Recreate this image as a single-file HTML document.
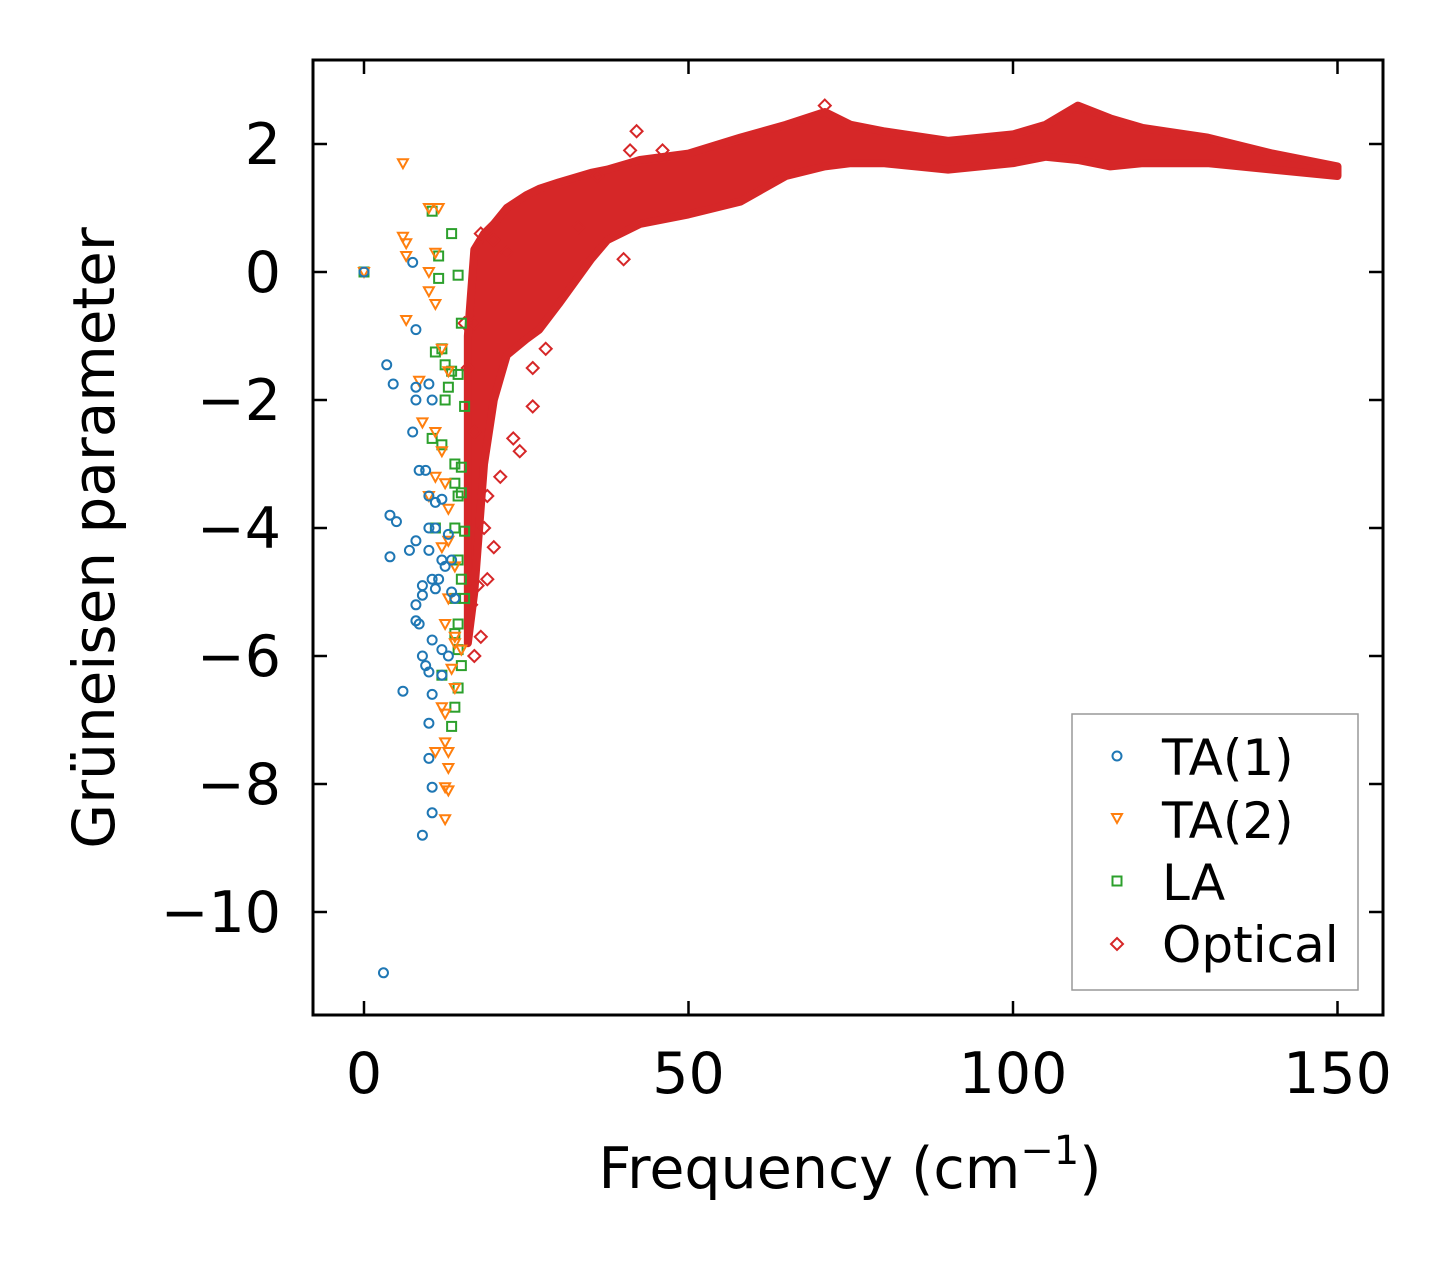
<!DOCTYPE html>
<html><head><meta charset="utf-8"><style>
html,body{margin:0;padding:0;background:#fff;}
svg{display:block;font-family:"DejaVu Sans","Liberation Sans",sans-serif;}
</style></head><body>
<div style="position:relative;width:1451px;height:1264px;">
<svg id="chart" width="1451" height="1264" viewBox="0 0 1451 1264" style="position:absolute;left:0;top:0">
<g id="marks"></g>
<g id="axes"></g>
<text x="850" y="1188" text-anchor="middle" font-size="57">Frequency (cm<tspan dy="-24" font-size="40">−1</tspan><tspan dy="24">)</tspan></text>
<text transform="translate(114,538) rotate(-90)" text-anchor="middle" font-size="58">Grüneisen parameter</text>
<g>
<rect x="1072" y="714" width="286" height="276" fill="#fff" stroke="#999" stroke-width="1.5"/>
<g><circle cx="1117" cy="756" r="4.5" fill="none" stroke="#1f77b4" stroke-width="2"/><text x="1162" y="775" font-size="50">TA(1)</text></g>
<g><polygon points="1112,814 1122,814 1117,823" fill="none" stroke="#ff7f0e" stroke-width="2"/><text x="1162" y="838" font-size="50">TA(2)</text></g>
<g><rect x="1112.5" y="876.5" width="9" height="9" fill="none" stroke="#2ca02c" stroke-width="2"/><text x="1162" y="900" font-size="50">LA</text></g>
<g><polygon points="1117,938 1123,944 1117,950 1111,944" fill="none" stroke="#d62728" stroke-width="2"/><text x="1162" y="962" font-size="50">Optical</text></g>
</g>
</svg>
</div>
<script>
// ---- data ----
const xTicks = [0, 50, 100, 150];
const yTicks = [2, 0, -2, -4, -6, -8, -10];
const bandFreq  = [16, 17, 18.5, 20, 22, 25, 27, 30, 35, 37.5, 42.5, 50, 58, 65, 71, 75, 80, 90, 100, 105, 110, 115, 120, 130, 140, 150];
const bandUpper = [-1, 0.35, 0.6, 0.75, 1.0, 1.2, 1.3, 1.4, 1.55, 1.6, 1.75, 1.85, 2.1, 2.3, 2.5, 2.3, 2.2, 2.05, 2.15, 2.3, 2.6, 2.4, 2.25, 2.1, 1.85, 1.65];
const bandLower = [-5.8, -5.0, -3.0, -2.0, -1.3, -1.05, -0.9, -0.5, 0.2, 0.5, 0.75, 0.9, 1.1, 1.5, 1.65, 1.7, 1.7, 1.6, 1.7, 1.8, 1.75, 1.65, 1.7, 1.7, 1.6, 1.5];
const optX = [17,18,19,20,19,18,20,24,23,26,26,42,41,40,71,46,17,16,17,21,16.5,17.5,18.5,15.5,22,28,33,36];
const optY = [-6,-5.7,-4.8,-4.3,-3.5,0.6,0.5,-2.8,-2.6,-2.1,-1.5,2.2,1.9,0.2,2.6,1.9,-0.8,-1.5,-2.5,-3.2,-5.2,-4.9,-4.0,-0.8,0.3,-1.2,0.7,1.5];
const ta1X = [0,3,7.5,8,3.5,4.5,8,8,10,10.5,7.5,8.5,9.5,10,11,12,4,5,10,11,8,7,4,10,12,10.5,11.5,9,11,9,8,13.5,13.5,8,8.5,10.5,12,13,9,9.5,10,12,6,10.5,10,10,10.5,10.5,9,13,12.5,14];
const ta1Y = [0,-10.95,0.15,-0.9,-1.45,-1.75,-1.8,-2,-1.75,-2,-2.5,-3.1,-3.1,-3.5,-3.6,-3.55,-3.8,-3.9,-4,-4,-4.2,-4.35,-4.45,-4.35,-4.5,-4.8,-4.8,-4.9,-4.95,-5.05,-5.2,-4.5,-5,-5.45,-5.5,-5.75,-5.9,-6,-6,-6.15,-6.25,-6.3,-6.55,-6.6,-7.05,-7.6,-8.05,-8.45,-8.8,-4.1,-4.6,-5.1];
const ta2X = [0,6,10,11.5,6,6.5,6.5,10,11,10,11,6.5,12,13,8.5,9,11,12,11,12.5,10,13,13,12,14,13,12.5,14,13.5,14,12,12.5,12.5,13,13,12.5,13,12.5,11,14,15];
const ta2Y = [0,1.7,1,1,0.55,0.45,0.25,0,0.3,-0.3,-0.5,-0.75,-1.2,-1.55,-1.7,-2.35,-2.5,-2.8,-3.2,-3.3,-3.5,-3.7,-4.2,-4.3,-4.6,-5.1,-5.5,-5.8,-6.2,-6.5,-6.8,-6.9,-7.35,-7.5,-7.75,-8.05,-8.1,-8.55,-7.5,-5.7,-5.9];
const laX = [0,10.5,11.5,13.5,11.5,14.5,15,11,12,12.5,13.5,14.5,13,12.5,15.5,10.5,12,14,15,14,14.5,15,11,14,15.5,14.5,15,14,15.5,14.5,14,15,14.5,14,13.5,12,14.5];
const laY = [0,0.95,0.25,0.6,-0.1,-0.05,-0.8,-1.25,-1.2,-1.45,-1.55,-1.6,-1.8,-2,-2.1,-2.6,-2.7,-3,-3.05,-3.3,-3.5,-3.45,-4,-4,-4.05,-4.5,-4.8,-5.1,-5.1,-5.5,-5.65,-6.15,-6.5,-6.8,-7.1,-6.3,-5.9];

// ---- axes functions ----
const L=313,R=1383,T=60,B=1015;
const sx = v => 364 + v*6.49;
const sy = v => 272 - v*64;
const NS='http://www.w3.org/2000/svg';
const marks=document.getElementById('marks'), axes=document.getElementById('axes');
function mk(tag, attrs, parent){const e=document.createElementNS(NS,tag);for(const k in attrs)e.setAttribute(k,attrs[k]);parent.appendChild(e);return e;}

let pts=[];
for(let i=0;i<bandFreq.length;i++) pts.push(sx(bandFreq[i])+','+sy(bandUpper[i]));
for(let i=bandFreq.length-1;i>=0;i--) pts.push(sx(bandFreq[i])+','+sy(bandLower[i]));
const band=mk('polygon',{points:pts.join(' '),fill:'#d62728',stroke:'#d62728','stroke-width':8,'stroke-linejoin':'round'},marks);



function circle(x,y,c){return mk('circle',{cx:x,cy:y,r:4.5,fill:'none',stroke:c,'stroke-width':2},marks);}
function tri(x,y,c){return mk('polygon',{points:`${x-5},${y-4} ${x+5},${y-4} ${x},${y+5}`,fill:'none',stroke:c,'stroke-width':2},marks);}
function sq(x,y,c){return mk('rect',{x:x-4.5,y:y-4.5,width:9,height:9,fill:'none',stroke:c,'stroke-width':2},marks);}
function dia(x,y,c){return mk('polygon',{points:`${x},${y-6} ${x+6},${y} ${x},${y+6} ${x-6},${y}`,fill:'none',stroke:c,'stroke-width':2},marks);}

for(let i=0;i<optX.length;i++){const e=dia(sx(optX[i]),sy(optY[i]),'#d62728');

}
for(let i=0;i<laX.length;i++){const e=sq(sx(laX[i]),sy(laY[i]),'#2ca02c');

}
for(let i=0;i<ta2X.length;i++){const e=tri(sx(ta2X[i]),sy(ta2Y[i]),'#ff7f0e');

}
for(let i=0;i<ta1X.length;i++){const e=circle(sx(ta1X[i]),sy(ta1Y[i]),'#1f77b4');

}

const fr=mk('rect',{x:L,y:T,width:R-L,height:B-T,fill:'none',stroke:'#000','stroke-width':3},axes);


xTicks.forEach(v=>{const x=sx(v);
 mk('line',{x1:x,y1:B,x2:x,y2:B-14,stroke:'#000','stroke-width':2.5},axes);
 mk('line',{x1:x,y1:T,x2:x,y2:T+14,stroke:'#000','stroke-width':2.5},axes);
 const t=mk('text',{x:x,y:B+78,'text-anchor':'middle','font-size':57},axes);t.textContent=String(v);
 
 
});
yTicks.forEach(v=>{const y=sy(v);
 mk('line',{x1:L,y1:y,x2:L+14,y2:y,stroke:'#000','stroke-width':2.5},axes);
 mk('line',{x1:R,y1:y,x2:R-14,y2:y,stroke:'#000','stroke-width':2.5},axes);
 const t=mk('text',{x:L-32,y:y+20,'text-anchor':'end','font-size':57},axes);t.textContent=(v<0?'\u2212':'')+Math.abs(v);
 
 
});
</script>
</body></html>
